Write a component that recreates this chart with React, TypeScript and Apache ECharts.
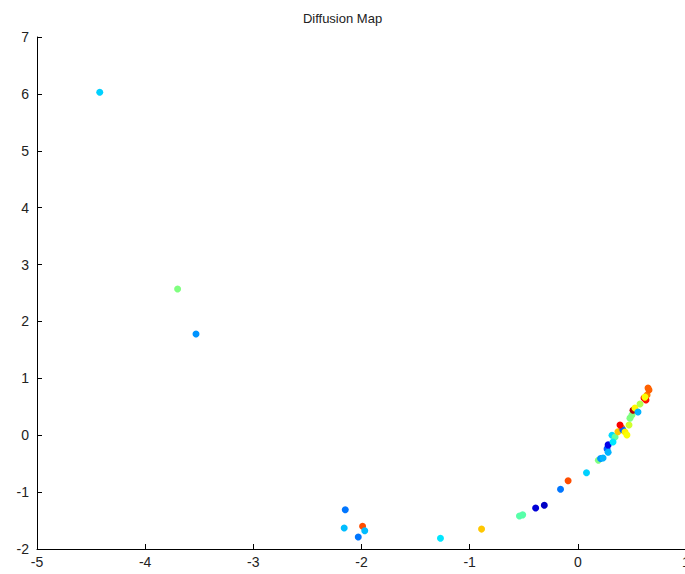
import React, { useEffect, useRef } from "react";
import * as echarts from "echarts";

const xValues = [
  -4.42, -3.7, -3.53, -2.15, -2.16, -1.99, -1.97, -2.03, -1.27, -0.89,
  -0.54, -0.51, -0.39, -0.31, -0.16, -0.09, 0.08, 0.19, 0.21,
  0.233, 0.27, 0.28, 0.28, 0.316, 0.344, 0.325, 0.371, 0.408, 0.417,
  0.436, 0.39, 0.454, 0.473, 0.5, 0.51, 0.528, 0.556, 0.575, 0.482,
  0.612, 0.63, 0.64, 0.649, 0.658, 0.62,
];
const yValues = [
  6.03, 2.57, 1.78, -1.31, -1.63, -1.6, -1.68, -1.79, -1.81, -1.65,
  -1.42, -1.4, -1.28, -1.23, -0.95, -0.8, -0.66, -0.44, -0.41,
  -0.4, -0.24, -0.17, -0.3, 0.0, -0.03, -0.12, 0.06, 0.127, 0.092,
  0.057, 0.18, 0.004, 0.18, 0.356, 0.44, 0.479, 0.408, 0.549, 0.3,
  0.654, 0.619, 0.707, 0.83, 0.795, 0.67,
];
// colour index on a jet colormap (0..1)
const colorValues = [
  0.33, 0.5, 0.27, 0.24, 0.31, 0.8, 0.31, 0.24, 0.35, 0.68,
  0.46, 0.46, 0.08, 0.06, 0.24, 0.8, 0.33, 0.5, 0.27,
  0.3, 0.22, 0.1, 0.3, 0.34, 0.47, 0.35, 0.68, 0.75, 0.22,
  0.64, 0.88, 0.62, 0.58, 0.5, 0.95, 0.63, 0.3, 0.55, 0.5,
  0.88, 0.86, 0.75, 0.78, 0.78, 0.62,
];
const xTicks = [-5, 1];
const yTicks = [-2, 7];

export default function App() {
  const ref = useRef<HTMLDivElement>(null);
  useEffect(() => {
    if (!ref.current) return;
    const chart = echarts.init(ref.current, null, { renderer: "svg" });
    const data = xValues.map((x, i) => [x, yValues[i], colorValues[i]]);
    const font = "Liberation Sans, Arial, sans-serif";
    chart.setOption({
      animation: false,
      backgroundColor: "#ffffff",
      title: {
        text: "Diffusion Map",
        left: "center",
        top: 7,
        textStyle: { fontSize: 13, fontWeight: "normal", color: "#222", fontFamily: font },
      },
      grid: { left: 37, top: 37, width: 649, height: 512, outerBoundsMode: "none", containLabel: false },
      visualMap: {
        show: false,
        min: 0,
        max: 1,
        dimension: 2,
        inRange: {
          color: ["#00008f", "#0000ff", "#0080ff", "#00ffff", "#80ff80", "#ffff00", "#ff8000", "#ff0000", "#800000"],
        },
      },
      xAxis: {
        type: "value",
        min: xTicks[0],
        max: xTicks[1],
        interval: 1,
        splitLine: { show: false },
        axisLine: { show: true, onZero: false, lineStyle: { color: "#000", width: 1 } },
        axisTick: { show: true, inside: true, length: 5, lineStyle: { color: "#000" } },
        axisLabel: { color: "#222", fontSize: 14, fontFamily: font, margin: 6 },
      },
      yAxis: {
        type: "value",
        min: yTicks[0],
        max: yTicks[1],
        interval: 1,
        splitLine: { show: false },
        axisLine: { show: true, onZero: false, lineStyle: { color: "#000", width: 1 } },
        axisTick: { show: true, inside: true, length: 5, lineStyle: { color: "#000" } },
        axisLabel: { color: "#222", fontSize: 14, fontFamily: font, margin: 8 },
      },
      series: [
        {
          type: "scatter",
          symbolSize: 7,
          data,
          itemStyle: { opacity: 1 },
        },
      ],
    });
    return () => chart.dispose();
  }, []);
  return (
    <div
      ref={ref}
      style={{ position: "absolute", left: 0, top: 0, width: 685, height: 574, background: "#fff" }}
    />
  );
}
